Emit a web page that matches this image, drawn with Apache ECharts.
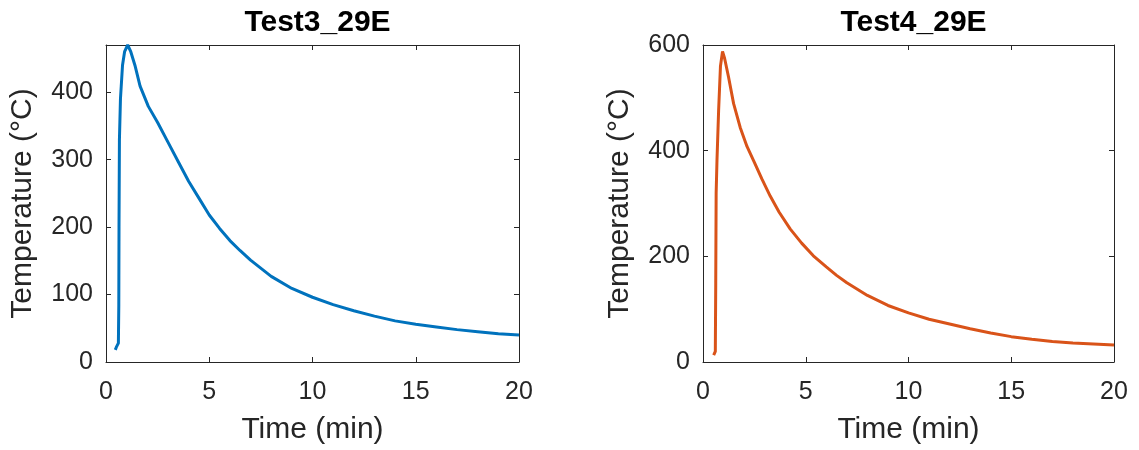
<!DOCTYPE html>
<html>
<head>
<meta charset="utf-8">
<script src="https://cdn.jsdelivr.net/npm/echarts@6/dist/echarts.min.js"></script>
<style>
  html, body { margin: 0; padding: 0; background: #fff; }
  #chart { width: 1139px; height: 450px; }
</style>
</head>
<body>
<div id="chart"></div>
<script>
// Test3_29E (left panel)
const test3Time = [0.45, 0.5, 0.6, 0.62, 0.63, 0.65, 0.7, 0.8, 0.9, 1.05, 1.2, 1.4, 1.65, 2.05, 2.5, 3.0, 3.5, 4, 4.5, 5, 5.5, 6, 6.5, 7, 8, 9, 10, 11, 12, 13, 14, 15, 16, 17, 18, 19, 20];
const test3Temp = [18, 22, 28, 85, 200, 330, 390, 440, 460, 470, 460, 440, 409, 379, 355, 326, 297, 268, 243, 218, 198, 180, 165, 151, 127, 109, 96, 85, 76, 68, 61, 56, 52, 48, 45, 42, 40];

// Test4_29E (right panel)
const test4Time = [0.52, 0.6, 0.62, 0.64, 0.68, 0.76, 0.85, 0.95, 1.05, 1.24, 1.49, 1.81, 2.14, 2.5, 2.87, 3.27, 3.7, 4.24, 4.8, 5.37, 6, 6.5, 7, 8, 9, 10, 11, 12, 13, 14, 15, 16, 17, 18, 19, 20];
const test4Temp = [13, 20, 150, 320, 381, 476, 560, 588, 575, 540, 489, 444, 408, 378, 346, 314, 284, 252, 225, 201, 180, 164, 150, 126, 107, 93, 81, 72, 63, 55, 48, 43, 39, 36, 34, 32];

const xTicks = [0, 5, 10, 15, 20];
const titles = ['Test3_29E', 'Test4_29E'];

const font = '"Liberation Sans", Arial, sans-serif';
const axisColor = '#262626';
const textColor = '#262626';

const toPairs = (xs, ys) => xs.map((x, i) => [x, ys[i]]);

const grids = [
  { left: 106, top: 45, width: 413, height: 317 },
  { left: 703, top: 45, width: 411, height: 317 }
];

const yMax = [470, 600];
const yInterval = [100, 200];

const xAxes = [];
const yAxes = [];
grids.forEach((g, i) => {
  // bottom axis with labels
  xAxes.push({
    gridIndex: i, type: 'value', min: xTicks[0], max: xTicks[xTicks.length - 1], interval: 5,
    name: 'Time (min)', nameLocation: 'middle', nameGap: 53,
    nameTextStyle: { fontFamily: font, fontSize: 30, color: textColor },
    axisLine: { onZero: false, lineStyle: { color: axisColor, width: 1 } },
    axisTick: { inside: true, length: 5, lineStyle: { color: axisColor } },
    axisLabel: { fontFamily: font, fontSize: 25, color: textColor, margin: 18 },
    splitLine: { show: false }
  });
  // top mirror
  xAxes.push({
    gridIndex: i, type: 'value', position: 'top', min: 0, max: 20, interval: 5,
    axisLine: { onZero: false, lineStyle: { color: axisColor, width: 1 } },
    axisTick: { inside: true, length: 5, lineStyle: { color: axisColor } },
    axisLabel: { show: false }, splitLine: { show: false }
  });
  yAxes.push({
    gridIndex: i, type: 'value', min: 0, max: yMax[i], interval: yInterval[i],
    name: 'Temperature (\u00B0C)', nameLocation: 'middle', nameGap: 68,
    nameTextStyle: { fontFamily: font, fontSize: 30, color: textColor },
    axisLine: { show: true, onZero: false, lineStyle: { color: axisColor, width: 1 } },
    axisTick: { show: true, inside: true, length: 5, lineStyle: { color: axisColor } },
    axisLabel: { fontFamily: font, fontSize: 25, color: textColor, margin: 13, showMaxLabel: yMax[i] % yInterval[i] === 0 },
    splitLine: { show: false }
  });
  yAxes.push({
    gridIndex: i, type: 'value', position: 'right', min: 0, max: yMax[i], interval: yInterval[i],
    axisLine: { show: true, onZero: false, lineStyle: { color: axisColor, width: 1 } },
    axisTick: { show: true, inside: true, length: 5, lineStyle: { color: axisColor } },
    axisLabel: { show: false }, splitLine: { show: false }
  });
});

const chart = echarts.init(document.getElementById('chart'), null, { renderer: 'canvas' });
chart.setOption({
  animation: false,
  backgroundColor: '#fff',
  title: titles.map((t, i) => ({
    text: t,
    left: grids[i].left + grids[i].width / 2,
    textAlign: 'center',
    top: 3,
    textStyle: { fontFamily: font, fontSize: 30, fontWeight: 'bold', color: '#000' }
  })),
  grid: grids.map(g => Object.assign({ containLabel: false, outerBoundsMode: 'none' }, g)),
  xAxis: xAxes,
  yAxis: yAxes,
  series: [
    {
      type: 'line', xAxisIndex: 0, yAxisIndex: 0, showSymbol: false,
      data: toPairs(test3Time, test3Temp),
      lineStyle: { color: '#0072BD', width: 3 }, itemStyle: { color: '#0072BD' }
    },
    {
      type: 'line', xAxisIndex: 2, yAxisIndex: 2, showSymbol: false,
      data: toPairs(test4Time, test4Temp),
      lineStyle: { color: '#D95319', width: 3 }, itemStyle: { color: '#D95319' }
    }
  ]
});
</script>
</body>
</html>
